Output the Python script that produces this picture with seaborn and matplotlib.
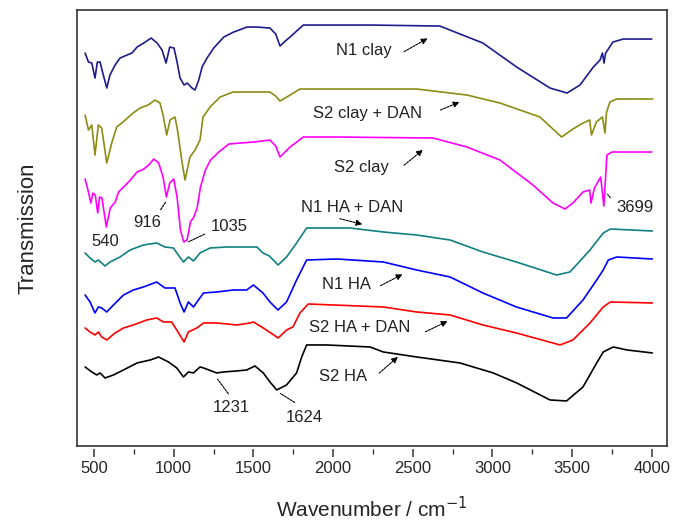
import numpy as np
import pandas as pd
import matplotlib
matplotlib.use("Agg")
import matplotlib.pyplot as plt
import seaborn as sns

# offset FTIR spectra, transmission in arbitrary units (stacked)
wn_n1_clay = [444, 465, 486, 506, 521, 538, 555, 580, 600, 632, 663, 707, 738, 770, 812, 858, 896, 927,
              952, 975, 1002, 1021, 1040, 1065, 1084, 1115, 1134, 1157, 1178, 1209, 1251, 1314, 1376,
              1460, 1523, 1604, 1640, 1667, 1700, 1730, 1813, 2232, 2670, 2940, 3152, 3361, 3468, 3549,
              3633, 3675, 3690, 3700, 3710, 3756, 3820, 4000]
t_n1_clay = [393, 384, 383, 368, 384, 384, 373, 358, 371, 381, 388, 391, 393, 399, 403, 408, 403, 396,
             383, 399, 398, 384, 368, 361, 363, 358, 356, 366, 379, 388, 398, 409, 414,
             419, 419, 418, 412, 400, 405, 409, 421, 421, 420, 403, 379, 358, 353, 361,
             379, 386, 393, 383, 393, 404, 407, 407]

wn_s2_clay_dan = [444, 465, 486, 506, 527, 548, 580, 611, 642, 682, 745, 789, 839, 883, 914, 933, 956, 977,
                  1008, 1027, 1050, 1071, 1102, 1134, 1165, 1184, 1228, 1291, 1372, 1604, 1640, 1667, 1730,
                  1792, 2232, 2526, 2840, 3047, 3298, 3434, 3505, 3568, 3610, 3621, 3652, 3690, 3706, 3716,
                  3737, 3779, 4005]
t_s2_clay_dan = [331, 316, 321, 291, 321, 318, 283, 303, 319, 324, 333, 338, 341, 346, 343, 331, 311, 326,
                 329, 313, 286, 266, 289, 296, 306, 329, 339, 349, 354, 354, 350, 345, 351,
                 357, 357, 357, 351, 343, 329, 309, 317, 323, 326, 311, 324, 329, 313, 334,
                 344, 347, 347]

wn_s2_clay = [444, 465, 480, 493, 508, 523, 535, 550, 577, 602, 633, 654, 686, 728, 770, 812, 843, 875, 906,
              933, 954, 975, 1000, 1021, 1042, 1063, 1084, 1105, 1126, 1147, 1168, 1199, 1231, 1283, 1346,
              1419, 1503, 1604, 1640, 1667, 1730, 1813, 2025, 2627, 2840, 3047, 3254, 3380, 3455, 3505,
              3568, 3610, 3618, 3640, 3679, 3699, 3718, 3750, 4000]
t_s2_clay = [267, 254, 243, 253, 251, 233, 249, 248, 219, 238, 244, 254, 259, 266, 274, 277, 281, 287, 283,
             269, 249, 263, 267, 249, 216, 204, 206, 224, 229, 238, 259, 276, 286, 294, 302,
             303, 304, 306, 300, 289, 299, 309, 309, 308, 299, 286, 261, 243, 237, 243,
             254, 256, 243, 258, 269, 240, 291, 294, 294]

wn_n1_ha_dan = [444, 475, 506, 527, 569, 600, 663, 726, 810, 893, 945, 998, 1029, 1061, 1092, 1124, 1165,
                1228, 1333, 1437, 1522, 1560, 1600, 1655, 1708, 1771, 1834, 2106, 2315, 2524, 2734, 2940,
                3150, 3402, 3486, 3612, 3695, 3740, 4003]
t_n1_ha_dan = [193, 188, 184, 186, 180, 184, 189, 196, 201, 203, 199, 198, 191, 184, 189, 185, 193,
               198, 199, 199, 199, 193, 190, 181, 189, 203, 218, 218, 214, 211, 206, 194,
               184, 171, 174, 196, 213, 217, 215]

wn_n1_ha = [444, 475, 506, 527, 548, 580, 622, 685, 747, 810, 893, 945, 1008, 1040, 1065, 1092, 1124, 1155,
            1187, 1270, 1375, 1458, 1500, 1560, 1604, 1654, 1708, 1771, 1834, 2025, 2315, 2524, 2734, 2940,
            3150, 3380, 3465, 3568, 3654, 3695, 3727, 3780, 4003]
t_n1_ha = [151, 144, 133, 139, 138, 134, 141, 151, 156, 159, 164, 158, 158, 143, 134, 144, 139, 146,
           153, 154, 156, 156, 161, 153, 144, 136, 144, 166, 186, 187, 184, 176, 169, 153,
           139, 128, 128, 146, 166, 176, 186, 189, 187]

wn_s2_ha_dan = [444, 475, 506, 527, 548, 580, 632, 685, 747, 831, 893, 935, 987, 1019, 1065, 1092, 1145,
                1187, 1270, 1395, 1479, 1500, 1562, 1656, 1708, 1748, 1792, 1844, 2000, 2315, 2524, 2734,
                2940, 3150, 3424, 3505, 3612, 3695, 3740, 4003]
t_s2_ha_dan = [118, 114, 111, 114, 109, 106, 113, 118, 121, 126, 128, 124, 124, 116, 104, 114, 118,
               123, 123, 121, 123, 124, 118, 108, 116, 119, 133, 142, 141, 139, 134, 131,
               121, 113, 101, 106, 123, 139, 144, 143]

wn_s2_ha = [444, 486, 517, 538, 569, 622, 685, 770, 853, 905, 967, 1019, 1061, 1092, 1124, 1165, 1187,
            1270, 1312, 1395, 1458, 1510, 1562, 1604, 1646, 1708, 1771, 1803, 1834, 1960, 2232, 2315,
            2524, 2796, 3005, 3152, 3361, 3465, 3568, 3654, 3695, 3758, 3844, 4003]
t_s2_ha = [79, 74, 71, 73, 68, 71, 76, 83, 86, 89, 84, 78, 69, 74, 73, 79, 78,
           73, 74, 75, 76, 80, 73, 64, 56, 61, 73, 89, 101, 101, 99, 94,
           89, 83, 73, 63, 46, 45, 59, 83, 94, 99, 96, 93]

names = ["N1 clay", "S2 clay + DAN", "S2 clay", "N1 HA + DAN", "N1 HA", "S2 HA + DAN", "S2 HA"]
colors = ["#1c1c8c", "#8c8c14", "#ff00ff", "#108080", "#0000ff", "#ff0000", "#000000"]

spectra = [(wn_n1_clay, t_n1_clay), (wn_s2_clay_dan, t_s2_clay_dan), (wn_s2_clay, t_s2_clay),
           (wn_n1_ha_dan, t_n1_ha_dan), (wn_n1_ha, t_n1_ha), (wn_s2_ha_dan, t_s2_ha_dan), (wn_s2_ha, t_s2_ha)]

frames = []
for name, (w, t) in zip(names, spectra):
    frames.append(pd.DataFrame({"wn": w, "t": t, "sample": name}))
df = pd.concat(frames, ignore_index=True)

sns.set_style("ticks")
plt.rcParams['font.family'] = ['Liberation Sans', 'DejaVu Sans']

fig = plt.figure(figsize=(6.77, 5.29), dpi=100)
ax = fig.add_axes([0.1137, 0.157, 0.8715, 0.824])

sns.lineplot(data=df, x="wn", y="t", hue="sample", palette=dict(zip(names, colors)),
             estimator=None, sort=False, lw=1.2, legend=False, ax=ax)

ax.set_xlim(393, 4095)
ax.set_ylim(0, 436)
ax.set_yticks([])
ax.set_ylabel("Transmission", fontsize=16, labelpad=28)
ax.set_xlabel("")
for s in ax.spines.values():
    s.set_linewidth(1.2)
    s.set_color("#333333")

# ticks sit a little below the frame, like the original
ax.tick_params(axis="x", which="both", bottom=False, labelbottom=False)
sec = ax.secondary_xaxis(-0.006)
sec.spines["bottom"].set_visible(False)
sec.set_xticks(np.arange(500, 4001, 500))
sec.set_xticks(np.arange(750, 4001, 500), minor=True)
sec.tick_params(which="major", length=6, width=1.1, labelsize=12, pad=3, color="#333333")
sec.tick_params(which="minor", length=3.5, width=1.0, color="#333333")
sec.set_xlabel("Wavenumber / cm$^{-1}$", fontsize=15, labelpad=14)

arrow = dict(arrowstyle="-|>", linestyle=(0, (2, 1)), lw=0.8, color="black", mutation_scale=9)
labels = [("N1 clay", 2194, 396, (2430, 393), (2608, 409)),
          ("S2 clay + DAN", 2219, 333, (2658, 335), (2809, 345)),
          ("S2 clay", 2175, 279, (2432, 279), (2577, 298)),
          ("N1 HA + DAN", 2119, 239, (2025, 228), (2200, 221)),
          ("N1 HA", 2087, 161, (2282, 159), (2451, 173)),
          ("S2 HA + DAN", 2169, 118, (2564, 113), (2734, 126)),
          ("S2 HA", 2062, 69, (2276, 71), (2420, 91))]
for txt, x, y, p0, p1 in labels:
    ax.text(x, y, txt, fontsize=12, ha="center", va="center", color="#222222")
    ax.annotate("", xy=p1, xytext=p0, arrowprops=arrow)

leader = dict(arrowstyle="-", linestyle=(0, (2, 1)), lw=0.8, color="black")
peaks = [("540", 569, 204, None, None),
         ("916", 833, 224, (908, 234), (958, 246)),
         ("1035", 1347, 219, (1209, 213), (1077, 203)),
         ("1231", 1360, 38, (1353, 50), (1265, 69)),
         ("1624", 1818, 28, (1774, 42), (1654, 54)),
         ("3699", 3894, 239, (3750, 246), (3712, 254))]
for txt, x, y, p0, p1 in peaks:
    ax.text(x, y, txt, fontsize=12, ha="center", va="center", color="#222222")
    if p0 is not None:
        ax.annotate("", xy=p1, xytext=p0, arrowprops=leader)

plt.savefig("out.png", dpi=100)
